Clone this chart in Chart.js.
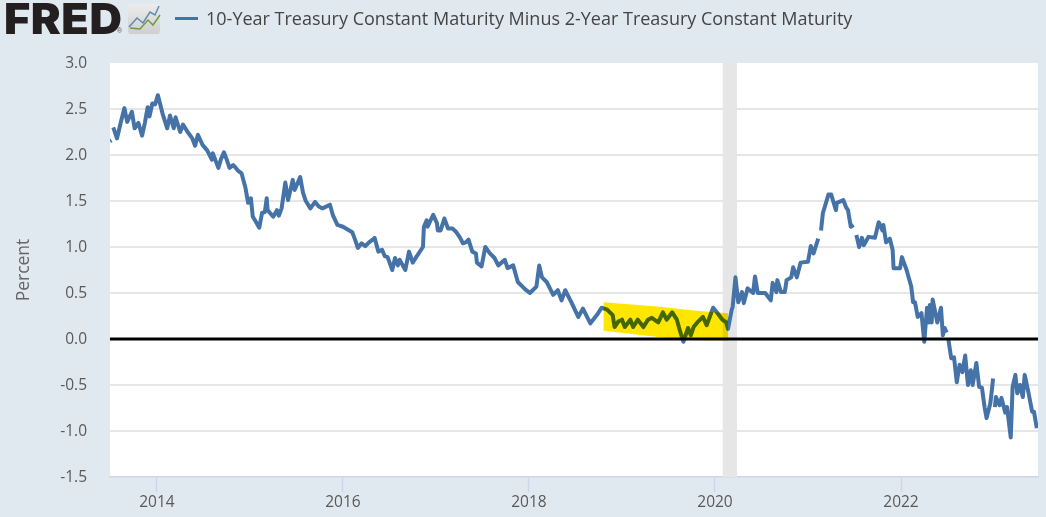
<!DOCTYPE html>
<html>
<head>
<meta charset="utf-8">
<title>FRED T10Y2Y</title>
<script src="https://cdn.jsdelivr.net/npm/chart.js@4"></script>
<style>
    html, body { margin: 0; padding: 0; background: #e1e9f0; overflow: hidden; }
    #wrap { position: relative; width: 1046px; height: 517px; }
    #chart { position: absolute; left: 0; top: 0; }
    #logo { position: absolute; left: 4px; top: -7px; font: 900 42px Inter, "Liberation Sans", sans-serif; color: #231f20; letter-spacing: 0.5px; transform: scaleX(1.07); transform-origin: left; }
    #reg { position: absolute; left: 117px; top: 27px; font: 7px "Liberation Sans", sans-serif; color: #555; }
    #icon { position: absolute; left: 128px; top: 4px; }
    #key { position: absolute; left: 175px; top: 17px; width: 23px; height: 3px; background: #4572a7; }
    #title { position: absolute; left: 206px; top: 6px; font: 18px "Open Sans", sans-serif; color: #444; white-space: nowrap; }
</style>
</head>
<body>
<div id="wrap">
    <canvas id="chart" width="1046" height="517"></canvas>
    <div id="logo">FRED</div>
    <div id="reg">®</div>
    <svg id="icon" width="33" height="31" viewBox="0 0 33 31">
        <defs>
            <linearGradient id="tile" x1="0" y1="0" x2="0" y2="1">
                <stop offset="0" stop-color="#ececec"/>
                <stop offset="1" stop-color="#cfcfcf"/>
            </linearGradient>
        </defs>
        <rect width="32" height="30" rx="3" fill="url(#tile)"/>
        <polyline points="1,23 9,14 15,19 22,8 27,11 31,2" fill="none" stroke="#5b8db0" stroke-width="1.5"/>
        <polyline points="2,24 12,25 20,16 25,21 32,11" fill="none" stroke="#6a9e3a" stroke-width="1.5"/>
    </svg>
    <div id="key"></div>
    <div id="title">10-Year Treasury Constant Maturity Minus 2-Year Treasury Constant Maturity</div>
</div>
<script>
// decimal years. null spreads are the little gaps in the line
const dates = [
    2013.495,2013.51,2013.52,2013.53,2013.57,2013.61,2013.65,2013.68,2013.73,2013.76,2013.80,2013.84,2013.87,2013.90,2013.92,2013.95,2013.98,
    2014.01,2014.06,2014.11,2014.14,2014.18,2014.20,2014.25,2014.28,2014.33,2014.38,2014.41,2014.44,2014.49,2014.54,2014.59,2014.60,2014.66,2014.69,2014.72,2014.75,2014.78,2014.82,2014.84,2014.87,2014.91,2014.95,2014.98,
    2015.01,2015.03,2015.06,2015.10,2015.13,2015.16,2015.18,2015.19,2015.25,2015.29,2015.31,2015.34,2015.38,2015.41,2015.46,2015.48,2015.54,2015.57,2015.60,2015.65,2015.70,2015.74,2015.78,2015.86,2015.89,2015.94,
    2016.00,2016.10,2016.13,2016.16,2016.20,2016.24,2016.28,2016.32,2016.34,2016.38,2016.42,2016.45,2016.48,2016.53,2016.56,2016.59,2016.61,2016.67,2016.71,2016.75,2016.80,2016.86,2016.87,2016.90,2016.91,2016.97,
    2017.01,2017.02,2017.05,2017.09,2017.13,2017.18,2017.22,2017.26,2017.29,2017.32,2017.35,2017.39,2017.43,2017.44,2017.49,2017.53,2017.58,2017.63,2017.67,2017.74,2017.77,2017.83,2017.88,2017.96,
    2018.01,2018.08,2018.11,2018.14,2018.19,2018.26,2018.31,2018.35,2018.39,2018.46,2018.53,2018.58,2018.63,2018.66,2018.73,2018.78,2018.84,2018.90,2018.92,2018.96,
    2019.00,2019.03,2019.09,2019.12,2019.17,2019.23,2019.28,2019.32,2019.39,2019.44,2019.48,2019.54,2019.59,2019.62,2019.66,2019.71,2019.74,2019.77,2019.81,2019.87,2019.91,2019.98,
    2020.02,2020.08,2020.12,2020.14,2020.18,2020.19,2020.22,2020.25,2020.29,2020.31,2020.35,2020.41,2020.43,2020.46,2020.54,2020.60,2020.62,2020.66,2020.67,2020.71,2020.75,2020.77,2020.82,2020.84,2020.88,2020.92,
    2021.00,2021.03,2021.06,2021.11,2021.13,2021.14,2021.16,2021.22,2021.25,2021.30,2021.31,2021.38,2021.41,2021.43,2021.46,2021.49,2021.50,2021.52,2021.55,2021.58,2021.60,2021.65,2021.72,2021.76,2021.80,2021.81,2021.84,2021.88,2021.91,2021.92,2021.99,
    2022.01,2022.06,2022.11,2022.13,2022.15,2022.18,2022.22,2022.25,2022.28,2022.30,2022.31,2022.33,2022.34,2022.39,2022.43,2022.45,2022.47,2022.49,2022.50,2022.51,2022.54,2022.57,2022.60,2022.63,2022.66,2022.69,2022.72,2022.75,2022.77,2022.81,2022.84,2022.87,2022.90,2022.92,2022.96,2022.98,2022.99,
    2023.00,2023.01,2023.02,2023.06,2023.08,2023.12,2023.14,2023.18,2023.20,2023.23,2023.25,2023.28,2023.31,2023.33,2023.37,2023.41,2023.43,2023.46
];
const spread = [
    2.15,2.16,null,2.30,2.18,2.35,2.51,2.36,2.47,2.29,2.35,2.21,2.35,2.52,2.42,2.56,2.55,
    2.65,2.45,2.29,2.43,2.29,2.41,2.25,2.33,2.25,2.18,2.10,2.22,2.11,2.05,1.95,2.02,1.86,1.96,2.03,1.95,1.86,1.89,1.87,1.83,1.80,1.65,1.48,
    1.53,1.33,1.28,1.21,1.37,1.38,1.53,1.40,1.33,1.40,1.34,1.42,1.70,1.51,1.73,1.62,1.76,1.59,1.50,1.42,1.49,1.44,1.42,1.46,1.35,1.24,
    1.22,1.16,1.08,0.99,1.04,1.01,1.05,1.08,1.10,0.95,0.97,0.90,0.89,0.75,0.88,0.80,0.86,0.75,0.95,0.83,0.91,1.00,1.22,1.29,1.22,1.35,
    1.26,1.18,1.18,1.31,1.20,1.20,1.16,1.10,1.04,1.05,1.08,0.95,0.93,0.83,0.79,1.00,0.93,0.88,0.80,0.86,0.77,0.80,0.62,0.54,
    0.50,0.57,0.80,0.67,0.62,0.48,0.53,0.42,0.53,0.39,0.24,0.33,0.23,0.17,0.26,0.34,0.32,0.26,0.13,0.19,
    0.21,0.13,0.21,0.13,0.21,0.13,0.21,0.23,0.18,0.29,0.21,0.29,0.21,0.10,-0.03,0.12,0.04,0.13,0.18,0.24,0.15,0.34,
    0.29,0.21,0.18,0.11,0.32,0.35,0.67,0.40,0.51,0.39,0.55,0.50,0.68,0.50,0.50,0.42,0.61,0.51,0.64,0.51,0.51,0.64,0.67,0.78,0.67,0.83,
    0.84,1.01,0.93,1.09,null,1.18,1.37,1.57,1.57,1.40,1.48,1.51,1.43,1.40,1.22,1.24,null,1.13,1.00,1.10,1.02,1.11,1.10,1.27,1.18,1.24,1.05,1.09,0.97,0.77,0.77,
    0.89,0.75,0.57,0.40,0.40,0.24,0.28,-0.03,0.34,0.18,0.37,0.18,0.43,0.18,0.34,0.04,0.12,0.07,null,-0.01,-0.21,-0.20,-0.47,-0.28,-0.36,-0.18,-0.50,-0.34,-0.50,-0.26,-0.52,-0.53,-0.75,-0.86,-0.70,-0.53,-0.43,
    null,-0.74,-0.63,-0.72,-0.64,-0.80,-0.74,-1.07,-0.52,-0.39,-0.59,-0.50,-0.63,-0.39,-0.58,-0.79,-0.79,-0.97
];
const xTicks = [2014, 2016, 2018, 2020, 2022];
const xRange = [2013.495, 2023.473];
const yTicks = [3.0, 2.5, 2.0, 1.5, 1.0, 0.5, 0.0, -0.5, -1.0, -1.5];
// shaded recession
const recession = [2020.08, 2020.237];
// the yellow marker somebody drew over the chart
const markerDates = [2018.80, 2019.41, 2019.77, 2020.14];
const markerTop = [0.40, 0.35, 0.31, 0.28];
const markerBottom = [0.09, 0.02, -0.01, -0.02];

const zip = (xs, ys) => xs.map((x, i) => ({ x: x, y: ys[i] }));

// white plot area + marker blends with what is under it like a real highlighter
const plotStuff = {
    id: 'plotStuff',
    beforeDraw(chart) {
        const a = chart.chartArea;
        chart.ctx.fillStyle = '#fff';
        chart.ctx.fillRect(a.left, a.top, a.width, a.height);
    },
    afterDatasetDraw(chart, args) {
        // zero line is the last thing before the marker, filler runs ahead of this plugin
        if (args.index === 2) chart.ctx.globalCompositeOperation = 'multiply';
    },
    afterDatasetsDraw(chart) {
        chart.ctx.globalCompositeOperation = 'source-over';
    }
};

new Chart(document.getElementById('chart'), {
    type: 'line',
    data: {
        datasets: [
            {
                label: 'Recession',
                data: zip(recession, [3, 3]),
                order: 5,
                borderWidth: 0,
                pointRadius: 0,
                backgroundColor: '#e6e6e6',
                fill: 'start'
            },
            {
                label: '10-Year Treasury Constant Maturity Minus 2-Year Treasury Constant Maturity',
                data: zip(dates, spread),
                order: 4,
                borderColor: '#4572a7',
                borderWidth: 4,
                borderJoinStyle: 'round',
                pointRadius: 0,
                spanGaps: false,
                tension: 0
            },
            {
                label: 'Zero',
                data: zip(xRange, [0, 0]),
                order: 3,
                borderColor: '#000',
                borderWidth: 3,
                pointRadius: 0
            },
            {
                label: 'Marker top',
                data: zip(markerDates, markerTop),
                order: 2,
                borderWidth: 0,
                pointRadius: 0,
                backgroundColor: '#ffe600',
                fill: 4
            },
            {
                label: 'Marker bottom',
                data: zip(markerDates, markerBottom),
                order: 1,
                borderWidth: 0,
                pointRadius: 0
            }
        ]
    },
    options: {
        responsive: false,
        animation: false,
        layout: { padding: { top: 63, right: 8, left: 0, bottom: 0 } },
        plugins: {
            legend: { display: false },
            tooltip: { enabled: false }
        },
        scales: {
            x: {
                type: 'linear',
                min: xRange[0],
                max: xRange[1],
                afterBuildTicks: (axis) => { axis.ticks = xTicks.map(v => ({ value: v })); },
                afterFit: (axis) => { axis.height = 40; },
                grid: { drawOnChartArea: false, tickColor: '#ccd6eb', tickLength: 15, tickWidth: 1.5 },
                border: { color: '#ccd6eb', width: 1.5 },
                ticks: {
                    maxRotation: 0,
                    padding: 1,
                    color: '#595959',
                    font: { family: 'Open Sans', size: 15.5 },
                    callback: (v) => String(v)
                }
            },
            y: {
                min: -1.5,
                max: 3,
                afterBuildTicks: (axis) => { axis.ticks = yTicks.map(v => ({ value: v })); },
                afterFit: (axis) => { axis.width = 110; },
                grid: {
                    color: (c) => c.tick.value === 3 ? 'transparent' : '#e6e6e6',
                    lineWidth: 2,
                    drawTicks: false
                },
                border: { display: false },
                ticks: {
                    padding: 23,
                    labelOffset: 1,
                    color: '#595959',
                    font: { family: 'Open Sans', size: 15.5 },
                    callback: (v) => v.toFixed(1)
                },
                title: {
                    display: true,
                    text: 'Percent',
                    color: '#666',
                    padding: { top: 14, bottom: 0 },
                    font: { family: 'Open Sans', size: 17.5 }
                }
            }
        }
    },
    plugins: [plotStuff]
});
</script>
</body>
</html>
